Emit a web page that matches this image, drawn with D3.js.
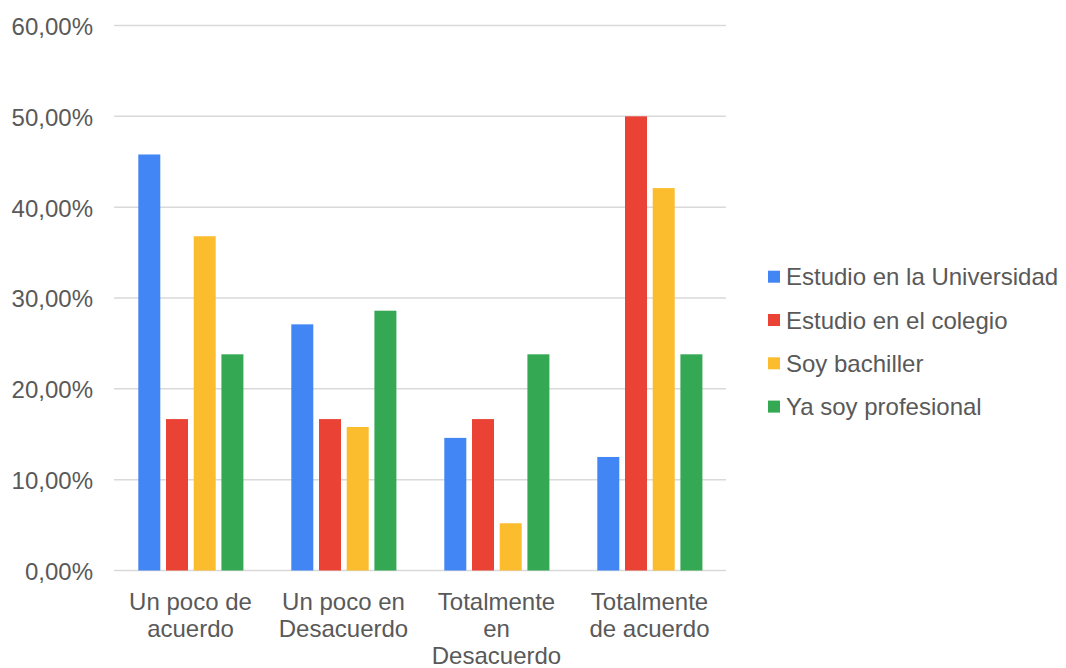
<!DOCTYPE html>
<html>
<head>
<meta charset="utf-8">
<script src="https://cdn.jsdelivr.net/npm/d3@7"></script>
<style>
  html, body { margin: 0; padding: 0; background: #fff; }
  svg { display: block; font-family: "Liberation Sans", Arial, Helvetica, sans-serif; }
</style>
</head>
<body>
<svg id="chart" width="1066" height="668"></svg>
<script>
const categories = ["Un poco de acuerdo", "Un poco en Desacuerdo", "Totalmente en Desacuerdo", "Totalmente de acuerdo"];
const seriesNames = ["Estudio en la Universidad", "Estudio en el colegio", "Soy bachiller", "Ya soy profesional"];
const universidad = [45.8, 27.1, 14.6, 12.5];
const colegio = [16.67, 16.67, 16.67, 50.0];
const bachiller = [36.8, 15.8, 5.2, 42.1];
const profesional = [23.8, 28.6, 23.8, 23.8];
const yTicks = [0, 10, 20, 30, 40, 50, 60];
const colors = ["#4285F4", "#EA4335", "#FBBC2E", "#34A853"];

const seriesValues = [universidad, colegio, bachiller, profesional];

const svg = d3.select("#chart");
const plot = { left: 114, right: 726, top: 25.5, bottom: 570.5 };
const textColor = "#595959";

const y = d3.scaleLinear().domain([0, 60]).range([plot.bottom, plot.top]);
const x0 = d3.scaleBand().domain(categories).range([plot.left, plot.right]).padding(0);
const x1 = d3.scaleBand().domain(seriesNames).range([24.3, 129.4]).paddingInner(0.206).paddingOuter(0);

const fmt = v => d3.format(".2f")(v).replace(".", ",") + "%";

// grid
svg.append("g").selectAll("line").data(yTicks).join("line")
  .attr("x1", plot.left).attr("x2", plot.right)
  .attr("y1", d => y(d)).attr("y2", d => y(d))
  .attr("stroke", "#d9d9d9").attr("stroke-width", 1.5);

// y axis labels
const yAxis = d3.axisLeft(y).tickValues(yTicks).tickFormat(fmt).tickSize(0).tickPadding(0);
const ya = svg.append("g").attr("transform", `translate(${plot.left - 21},0)`).call(yAxis);
ya.select(".domain").remove();
ya.selectAll("text").attr("fill", textColor).attr("font-size", 24)
  .attr("font-family", "'Liberation Sans', Arial, sans-serif").attr("dy", "0.37em");

// bars
const groups = svg.append("g").selectAll("g").data(categories).join("g")
  .attr("transform", d => `translate(${x0(d)},0)`);
groups.selectAll("rect")
  .data((d, i) => seriesNames.map((s, j) => ({ s, j, v: seriesValues[j][i] })))
  .join("rect")
  .attr("x", d => x1(d.s))
  .attr("width", x1.bandwidth())
  .attr("y", d => y(d.v))
  .attr("height", d => y(0) - y(d.v))
  .attr("fill", d => colors[d.j]);

// x labels with wrap
const xa = svg.append("g");
categories.forEach(c => {
  const cx = x0(c) + x0.bandwidth() / 2;
  const t = xa.append("text").attr("x", cx).attr("y", 610)
    .attr("text-anchor", "middle").attr("font-size", 24).attr("fill", textColor);
  const words = c.split(" ");
  let lines = [], cur = [];
  const probe = xa.append("text").attr("font-size", 24);
  words.forEach(w => {
    const test = cur.concat([w]).join(" ");
    probe.text(test);
    if (probe.node().getComputedTextLength() > 140 && cur.length) {
      lines.push(cur.join(" "));
      cur = [w];
    } else cur.push(w);
  });
  lines.push(cur.join(" "));
  probe.remove();
  lines.forEach((l, i) => {
    t.append("tspan").attr("x", cx).attr("y", 610 + i * 27).text(l);
  });
});

// legend
const lg = svg.append("g").attr("transform", "translate(768,0)");
seriesNames.forEach((s, i) => {
  const cy = 276.7 + i * 43.3;
  lg.append("rect").attr("x", 0).attr("y", cy - 6).attr("width", 12).attr("height", 12).attr("fill", colors[i]);
  lg.append("text").attr("x", 18).attr("y", cy).attr("dy", "0.36em")
    .attr("font-size", 24).attr("fill", textColor).text(s);
});
</script>
</body>
</html>
